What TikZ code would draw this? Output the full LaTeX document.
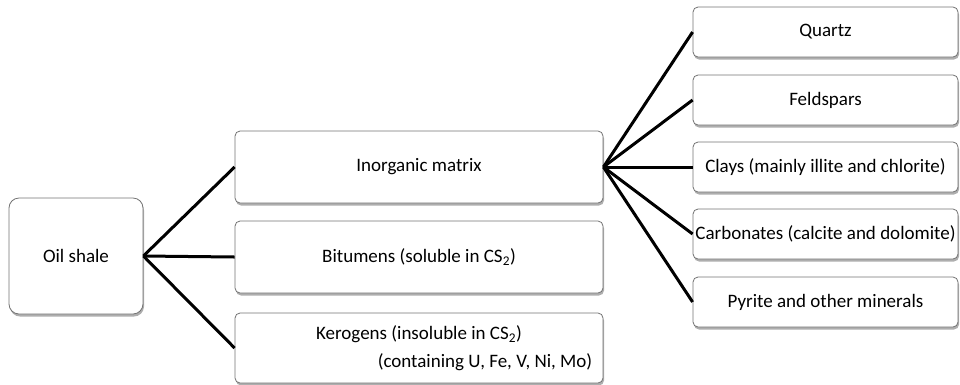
\documentclass[tikz,border=0pt]{standalone}
\usepackage{fontspec}
\setmainfont{Carlito}
\usetikzlibrary{shadows}
\tikzset{
  boxbase/.style={draw=black!55, line width=0.8pt, fill=white, rounded corners=5pt,
    drop shadow={shadow xshift=1pt, shadow yshift=-2.5pt, fill=black!45, opacity=0.7},
    font=\fontsize{19}{22}\selectfont, inner sep=1pt},
  wire/.style={line width=3pt, black}
}
\begin{document}
\begin{tikzpicture}[x=1pt,y=-1pt]
\useasboundingbox (0,0) rectangle (960,384);
\node[boxbase, rounded corners=10pt, minimum width=134pt, minimum height=116pt] (oil) at (76,256) {Oil shale};
\node[boxbase, minimum width=368pt, minimum height=72pt] (inorg) at (419,167) {Inorganic matrix};
\node[boxbase, minimum width=368pt, minimum height=72pt] (bit) at (419,257) {Bitumens (soluble in CS\textsubscript{2})};
\node[boxbase, minimum width=368pt, minimum height=70pt, align=center, font=\fontsize{19}{28}\selectfont] (ker) at (419,348) {Kerogens (insoluble in CS\textsubscript{2})\\\hspace*{132pt}(containing U, Fe, V, Ni, Mo)};
\node[boxbase, minimum width=265pt, minimum height=50pt] (qz) at (825.5,32) {Quartz};
\node[boxbase, minimum width=265pt, minimum height=50pt] (fs) at (825.5,100) {Feldspars};
\node[boxbase, minimum width=265pt, minimum height=50pt] (cl) at (825.5,167) {Clays (mainly illite and chlorite)};
\node[boxbase, minimum width=265pt, minimum height=50pt] (cb) at (825.5,234) {Carbonates (calcite and dolomite)};
\node[boxbase, minimum width=265pt, minimum height=50pt] (py) at (825.5,302) {Pyrite and other minerals};
\draw[wire] (oil.east) -- (inorg.west);
\draw[wire] (oil.east) -- (bit.west);
\draw[wire] (oil.east) -- (ker.west);
\foreach \t in {qz,fs,cl,cb,py}{\draw[wire] (inorg.east) -- (\t.west);}
\end{tikzpicture}
\end{document}
